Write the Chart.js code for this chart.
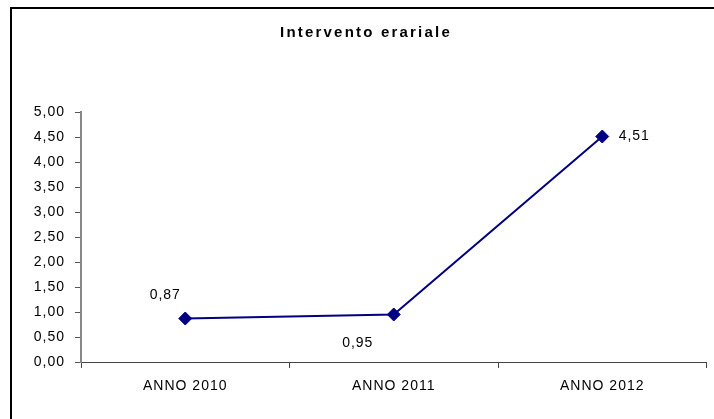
<!DOCTYPE html>
<html>
<head>
<meta charset="utf-8">
<script src="https://cdn.jsdelivr.net/npm/chart.js@4"></script>
<style>
  body { margin: 0; background: #fff; }
  #wrap { width: 714px; height: 419px; }
</style>
</head>
<body>
<div id="wrap"><canvas id="chart" width="714" height="419"></canvas></div>
<script>
// chart data
const categories = ['ANNO 2010', 'ANNO 2011', 'ANNO 2012'];
const values = [0.87, 0.95, 4.51];
const chartTitle = 'Intervento erariale';

// where each value label sits relative to its point (px)
const labelOffsets = [[-20, -23], [-36, 29], [32, 0]];

const fontFamily = '"Liberation Sans", Arial, sans-serif';

function fmt(v) {
  return v.toFixed(2).replace('.', ',');
}

// frame, title and value labels
const decorations = {
  id: 'decorations',
  beforeDraw(chart) {
    const ctx = chart.ctx;
    ctx.letterSpacing = '1px';
    ctx.save();
    ctx.strokeStyle = '#000';
    ctx.lineWidth = 2;
    ctx.strokeRect(11, 8, 800, 500);
    ctx.restore();
  },
  afterDatasetsDraw(chart) {
    const ctx = chart.ctx;
    const meta = chart.getDatasetMeta(0);
    ctx.save();
    ctx.fillStyle = '#000';
    ctx.textAlign = 'center';
    ctx.textBaseline = 'middle';
    ctx.font = '14px ' + fontFamily;
    ctx.letterSpacing = '1px';
    meta.data.forEach((pt, i) => {
      const off = labelOffsets[i];
      ctx.fillText(fmt(values[i]), pt.x + off[0], pt.y + off[1]);
    });
    ctx.font = 'bold 15px ' + fontFamily;
    ctx.letterSpacing = '2.2px';
    ctx.fillText(chartTitle, 366, 33);
    ctx.restore();
  }
};

const ctx = document.getElementById('chart').getContext('2d');
const chart = new Chart(ctx, {
  type: 'line',
  data: {
    labels: categories,
    datasets: [{
      data: values,
      borderColor: '#000080',
      backgroundColor: '#000080',
      borderWidth: 2,
      pointStyle: 'rectRot',
      pointRadius: 6.5,
      pointBorderWidth: 1,
      tension: 0
    }]
  },
  options: {
    responsive: false,
    animation: false,
    layout: { padding: { top: 112, right: 7, left: 0, bottom: 0 } },
    plugins: {
      legend: { display: false },
      tooltip: { enabled: false },
      title: { display: false }
    },
    scales: {
      x: {
        offset: true,
        grid: {
          offset: true,
          drawOnChartArea: false,
          tickLength: 6,
          color: '#444'
        },
        border: { color: '#444', width: 1 },
        ticks: {
          color: '#000',
          padding: 10,
          maxRotation: 0,
          font: { family: fontFamily, size: 14 }
        },
        afterFit(scale) { scale.height = 57; }
      },
      y: {
        min: 0,
        max: 5,
        grid: {
          drawOnChartArea: false,
          tickLength: 6,
          color: '#555'
        },
        border: { color: '#888', width: 2 },
        ticks: {
          stepSize: 0.5,
          color: '#000',
          padding: 10,
          font: { family: fontFamily, size: 14 },
          callback: v => fmt(v)
        },
        afterFit(scale) { scale.width = 81; }
      }
    }
  },
  plugins: [decorations]
});
</script>
</body>
</html>
